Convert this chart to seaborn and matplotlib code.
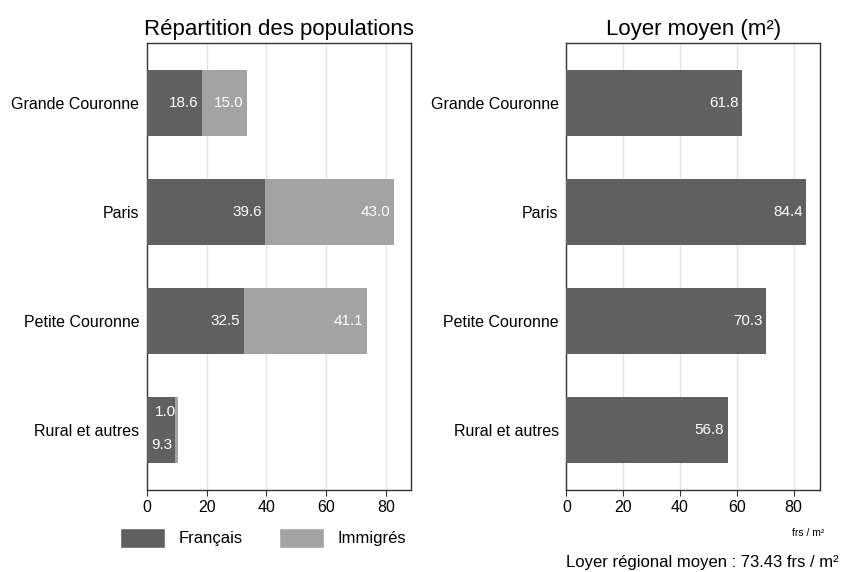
import pandas as pd
import matplotlib
matplotlib.use('Agg')
import matplotlib.pyplot as plt
import seaborn as sns
from matplotlib.patches import Patch

zones = ['Grande Couronne', 'Paris', 'Petite Couronne', 'Rural et autres']
francais = [18.6, 39.6, 32.5, 9.3]
immigres = [15.0, 43.0, 41.1, 1.0]
loyer = [61.8, 84.4, 70.3, 56.8]
loyer_regional = 73.43

sns.set_style('white')
plt.rcParams['font.family'] = ['Liberation Sans', 'DejaVu Sans']
plt.rcParams['text.color'] = 'black'
plt.rcParams['xtick.color'] = 'black'
plt.rcParams['ytick.color'] = 'black'

c_fr = '#606060'
c_im = '#a3a3a3'

df = pd.DataFrame({'zone': zones, 'fr': francais, 'im': immigres, 'loyer': loyer})
df['total'] = df['fr'] + df['im']

fig = plt.figure(figsize=(8.44, 5.72), dpi=100)
ax1 = fig.add_axes([0.174, 0.143, 0.313, 0.782])
ax2 = fig.add_axes([0.671, 0.143, 0.301, 0.782])

#Répartition des populations (stacked)
sns.barplot(data=df, y='zone', x='total', color=c_im, width=0.6, saturation=1, linewidth=0, ax=ax1, zorder=2)
sns.barplot(data=df, y='zone', x='fr', color=c_fr, width=0.6, saturation=1, linewidth=0, ax=ax1, zorder=3)

for i, r in df.iterrows():
    if r['zone'] == 'Rural et autres':
        ax1.text(r['total'] - 0.6, i - 0.17, f"{r['im']:.1f}", color='white', ha='right', va='center', fontsize=11, zorder=4)
        ax1.text(r['fr'] - 0.6, i + 0.14, f"{r['fr']:.1f}", color='white', ha='right', va='center', fontsize=11, zorder=4)
    else:
        ax1.text(r['fr'] - 1.2, i, f"{r['fr']:.1f}", color='white', ha='right', va='center', fontsize=11, zorder=4)
        ax1.text(r['total'] - 1.2, i, f"{r['im']:.1f}", color='white', ha='right', va='center', fontsize=11, zorder=4)

ax1.set_xlim(0, 88.4)
ax1.set_title('Répartition des populations', fontsize=16, pad=6)

#Loyer moyen
sns.barplot(data=df, y='zone', x='loyer', color=c_fr, width=0.6, saturation=1, linewidth=0, ax=ax2, zorder=3)
for i, r in df.iterrows():
    ax2.text(r['loyer'] - 1.2, i, f"{r['loyer']:.1f}", color='white', ha='right', va='center', fontsize=11, zorder=4)
ax2.set_xlim(0, 89.4)
ax2.set_title('Loyer moyen (m²)', fontsize=16, pad=6)

for ax in (ax1, ax2):
    ax.set_ylim(3.55, -0.55)
    ax.set_xticks([0, 20, 40, 60, 80])
    ax.set_xlabel('')
    ax.set_ylabel('')
    ax.grid(axis='x', color='#e3e3e3', linewidth=1, zorder=0)
    ax.set_axisbelow(True)
    for s in ax.spines.values():
        s.set_color('#333333')
        s.set_linewidth(1)
    ax.tick_params(axis='x', bottom=True, length=4, color='#333333', labelsize=11.5, pad=3)
    ax.tick_params(axis='y', left=False, labelsize=11.5, pad=2)

fig.text(0.977, 0.068, 'frs / m²', fontsize=7.5, ha='right', va='center')
fig.text(0.994, 0.016, f'Loyer régional moyen : {loyer_regional} frs / m²', fontsize=12, ha='right', va='center')

handles = [Patch(facecolor=c_fr, label='Français'), Patch(facecolor=c_im, label='Immigrés')]
fig.legend(handles=handles, loc='center', bbox_to_anchor=(0.312, 0.06), ncol=2, frameon=False,
           fontsize=12, handlelength=2.7, handleheight=1.5, columnspacing=2.2, handletextpad=0.8)

fig.savefig('out.png', dpi=100)
